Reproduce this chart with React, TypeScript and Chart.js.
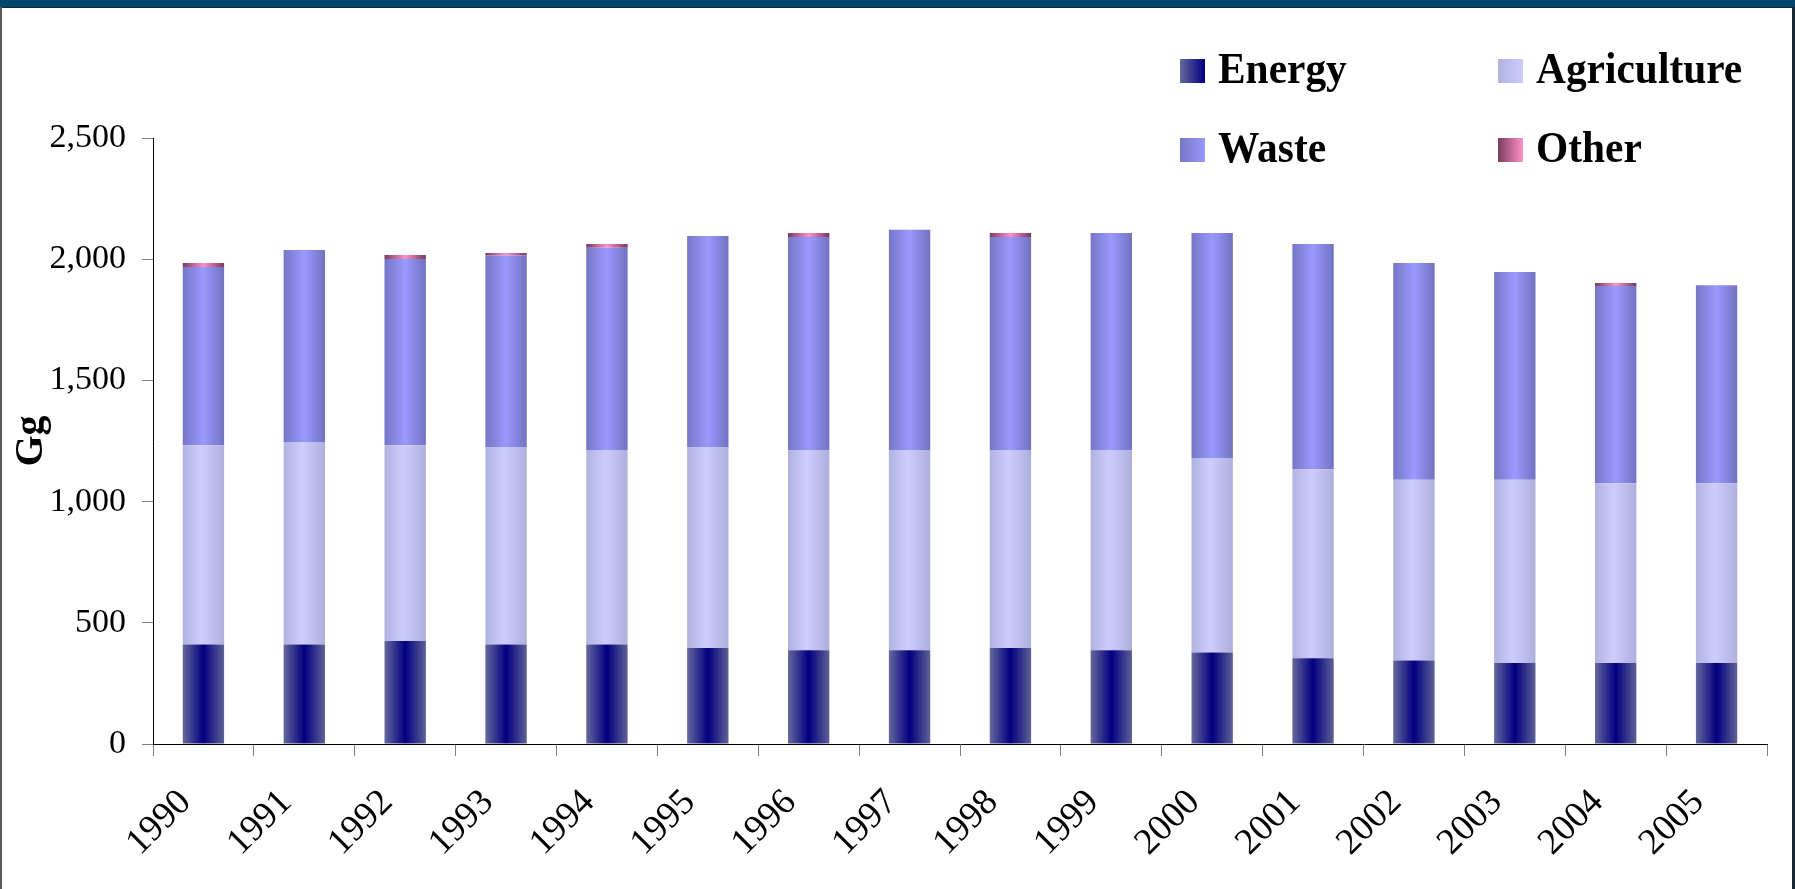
import React, { useEffect, useRef } from 'react';
import { Chart, registerables } from 'chart.js';

Chart.register(...registerables);

const years = ['1990', '1991', '1992', '1993', '1994', '1995', '1996', '1997', '1998', '1999', '2000', '2001', '2002', '2003', '2004', '2005'];
const energy = [410, 410, 425, 410, 410, 396, 387, 387, 396, 387, 377, 354, 344, 334, 334, 334];
const agriculture = [822, 836, 807, 813, 803, 827, 826, 826, 817, 826, 803, 779, 746, 756, 742, 742];
const waste = [736, 792, 769, 792, 834, 873, 879, 908, 879, 895, 928, 930, 894, 857, 813, 817];
const other = [16, 0, 16, 11, 16, 0, 16, 0, 16, 0, 0, 0, 0, 0, 13, 0];
const yTickValues = [0, 500, 1000, 1500, 2000, 2500];
const seriesLabels = ['Energy', 'Agriculture', 'Waste', 'Other'];

const W = 1795;
const H = 889;
const BAR_PCT = 0.41;
const FONT = "'Liberation Serif', 'Times New Roman', serif";

type Stop = [number, string];
const energyStops: Stop[] = [[0, '#66689c'], [0.5, '#000080'], [1, '#5f6196']];
const agriStops: Stop[] = [[0, '#b2b2e0'], [0.45, '#ccccff'], [1, '#afafdc']];
const wasteStops: Stop[] = [[0, '#7676c6'], [0.5, '#9999ff'], [1, '#7272c1']];
const otherStops: Stop[] = [[0, '#7a3c5c'], [0.5, '#ff90c8'], [1, '#783a5a']];
const allStops = [energyStops, agriStops, wasteStops, otherStops];

const makeGrad = (stops: Stop[]) => (c: any) => {
  const chart = c.chart;
  const xs = chart.scales && chart.scales.x;
  if (!xs || c.dataIndex == null || !xs.width) return stops[1][1];
  const center = xs.getPixelForValue(c.dataIndex);
  const w = (xs.width / years.length) * BAR_PCT;
  const g = chart.ctx.createLinearGradient(center - w / 2, 0, center + w / 2, 0);
  stops.forEach(([o, col]) => g.addColorStop(o, col));
  return g;
};

const legendPlugin = {
  id: 'customLegend',
  afterDraw(chart: any) {
    const ctx = chart.ctx;
    const cols = [1180, 1498];
    const rows = [83, 162];
    ctx.save();
    chart.data.datasets.forEach((ds: any, i: number) => {
      const x = cols[i % 2];
      const base = rows[Math.floor(i / 2)];
      const stops = allStops[i];
      const g = ctx.createLinearGradient(x, 0, x + 25, 0);
      g.addColorStop(0, stops[0][1]);
      g.addColorStop(1, stops[1][1]);
      ctx.fillStyle = g;
      ctx.fillRect(x, base - 24, 25, 24);
      ctx.save();
      ctx.translate(x + 38, base);
      ctx.scale(0.92, 1);
      ctx.fillStyle = '#000';
      ctx.font = `bold 45px ${FONT}`;
      ctx.textBaseline = 'alphabetic';
      ctx.textAlign = 'left';
      ctx.fillText(ds.label, 0, 0);
      ctx.restore();
    });
    ctx.restore();
  },
};

export default function App() {
  const ref = useRef<HTMLCanvasElement>(null);

  useEffect(() => {
    if (!ref.current) return;
    const data = [energy, agriculture, waste, other];
    const chart = new Chart(ref.current, {
      type: 'bar',
      data: {
        labels: years,
        datasets: data.map((d, i) => ({
          label: seriesLabels[i],
          data: d,
          backgroundColor: makeGrad(allStops[i]),
          borderWidth: 0,
          barPercentage: BAR_PCT,
          categoryPercentage: 1,
        })),
      },
      options: {
        responsive: false,
        animation: false,
        devicePixelRatio: 1,
        layout: { padding: { left: 0, right: 28, top: 138, bottom: 0 } },
        plugins: {
          legend: { display: false },
          tooltip: { enabled: false },
        },
        scales: {
          x: {
            stacked: true,
            grid: {
              display: true,
              drawOnChartArea: false,
              drawTicks: true,
              tickLength: 12,
              color: '#808080',
              offset: true,
            },
            border: { display: true, color: '#000', width: 1 },
            ticks: {
              color: '#000',
              font: { family: FONT, size: 37 },
              maxRotation: 45,
              minRotation: 45,
              autoSkip: false,
              labelOffset: -18,
              padding: 25,
            },
            afterFit: (s: any) => {
              s.height = 145;
              s.paddingLeft = 0;
              s.paddingRight = 0;
            },
          },
          y: {
            stacked: true,
            min: 0,
            max: 2500,
            afterBuildTicks: (s: any) => {
              s.ticks = yTickValues.map((v) => ({ value: v }));
            },
            ticks: {
              color: '#000',
              font: { family: FONT, size: 34 },
              padding: 16,
              callback: (v: any) => Number(v).toLocaleString('en-US'),
            },
            grid: {
              display: true,
              drawOnChartArea: false,
              drawTicks: true,
              tickLength: 11,
              color: '#808080',
            },
            border: { display: true, color: '#000', width: 1 },
            title: {
              display: true,
              text: 'Gg',
              color: '#000',
              font: { family: FONT, size: 40, weight: 'bold' },
              padding: { top: 8, bottom: 0 },
            },
            afterFit: (s: any) => {
              s.width = 153;
              s.paddingTop = 0;
              s.paddingBottom = 0;
            },
          },
        },
      },
      plugins: [legendPlugin],
    });
    return () => chart.destroy();
  }, []);

  return (
    <div style={{ position: 'fixed', left: 0, top: 0, width: W, height: H, background: '#fff', overflow: 'hidden' }}>
      <canvas ref={ref} width={W} height={H} style={{ position: 'absolute', left: 0, top: 0, width: W, height: H }} />
      <div style={{ position: 'absolute', left: 0, top: 0, width: W, height: 7, background: '#00456b' }} />
      <div style={{ position: 'absolute', left: 0, top: 7, width: W, height: 1, background: '#0b2b3d' }} />
      <div style={{ position: 'absolute', left: 0, top: 7, width: 2, height: H - 7, background: '#5a5a5a' }} />
      <div style={{ position: 'absolute', left: W - 3, top: 7, width: 3, height: H - 7, background: '#1a2a34' }} />
    </div>
  );
}
